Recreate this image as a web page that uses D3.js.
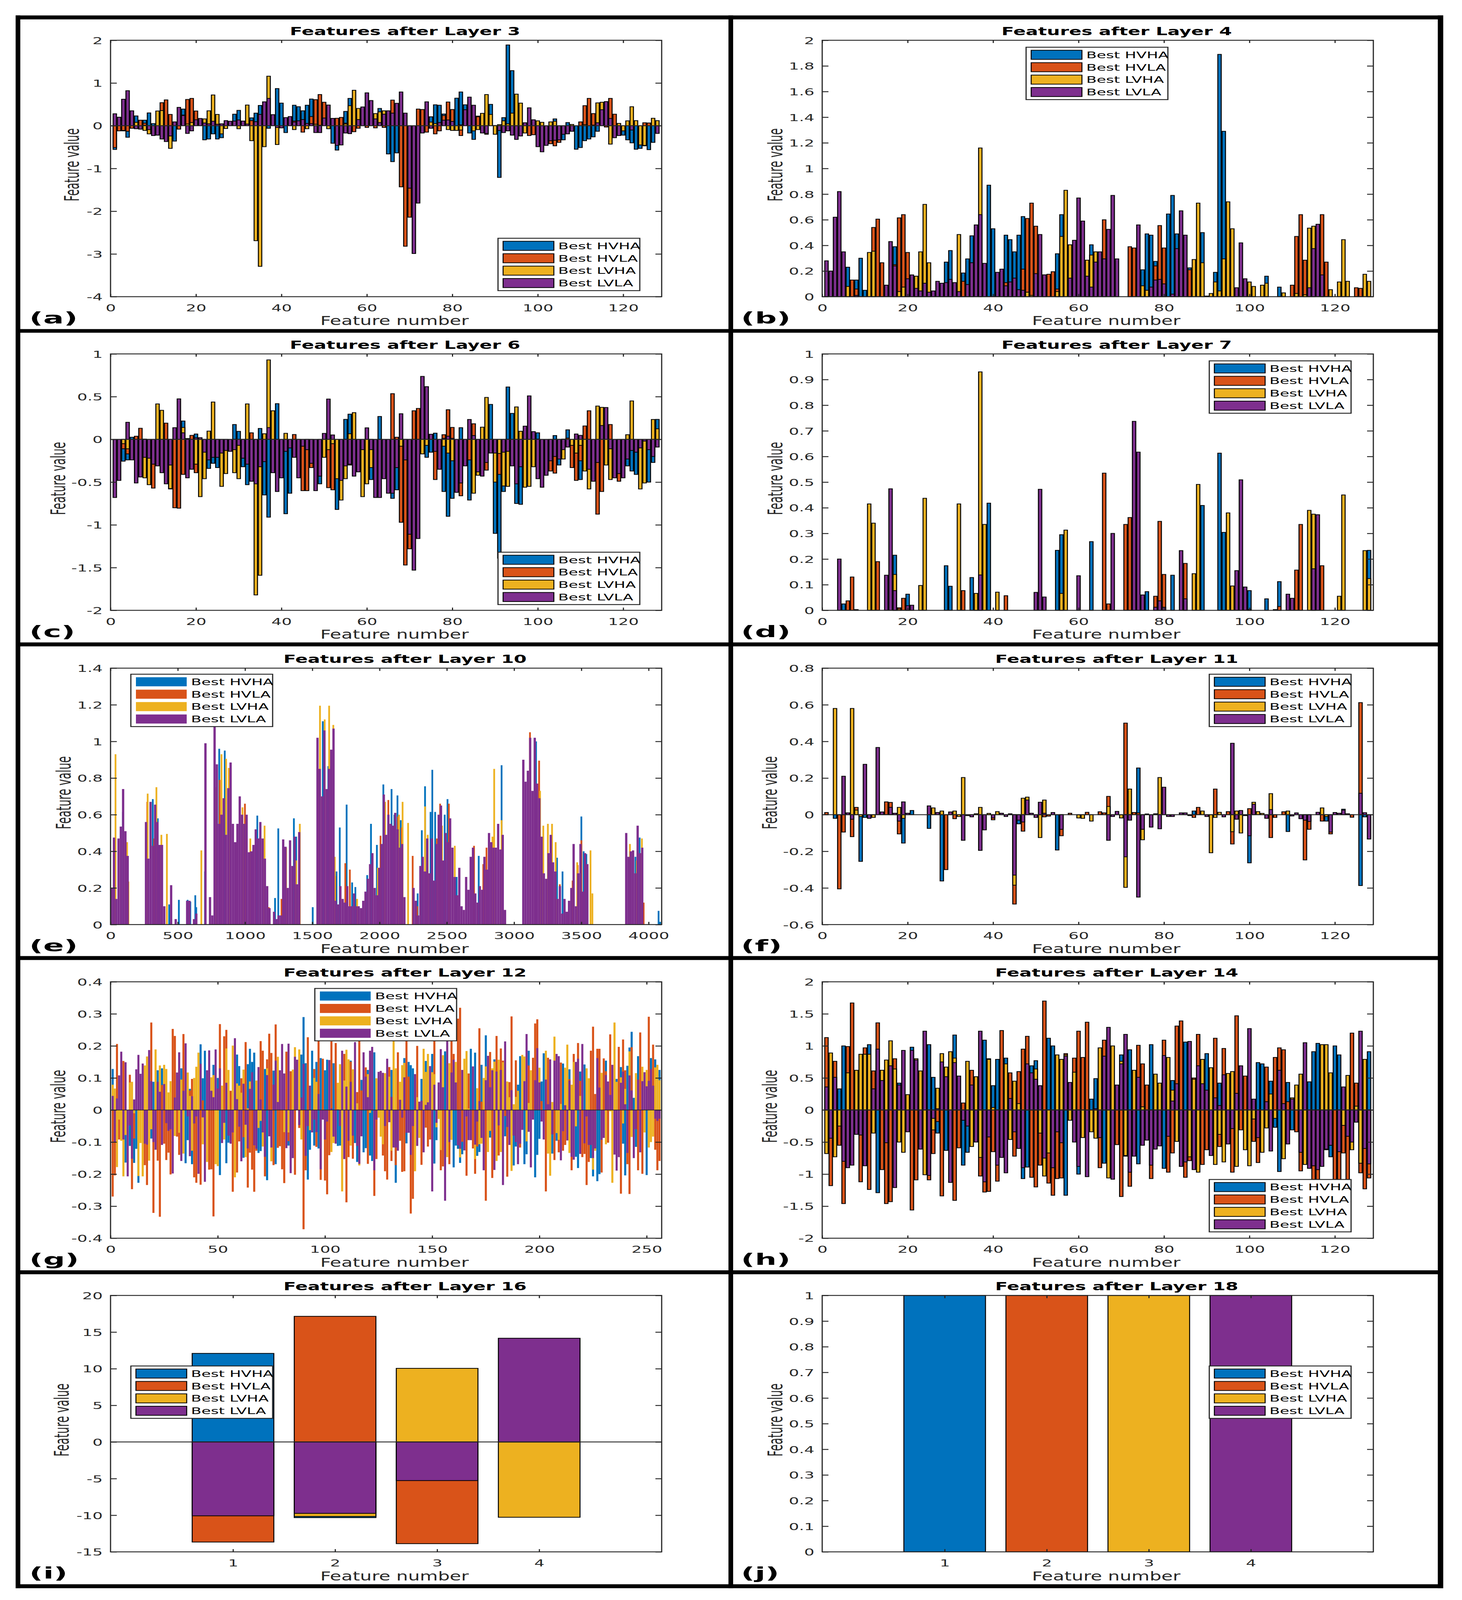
<!DOCTYPE html>
<html>
<head>
<meta charset="utf-8">
<script src="https://d3js.org/d3.v7.min.js"></script>
<style>
html, body { margin: 0; background: white; overflow: hidden; }
text { font-family: "DejaVu Sans"; fill: #262626; }
</style>
</head>
<body>
<div id="chart"></div>
<script>
var series_names = ["Best HVHA", "Best HVLA", "Best LVHA", "Best LVLA"];
var series_colors = ["#0072BD", "#D95319", "#EDB120", "#7E2F8E"];
var ticks_128 = [0, 20, 40, 60, 80, 100, 120];
var ticks_4 = [1, 2, 3, 4];

// Layer 3
var a_hvha = [-.555,0,-.12,-.27,0,.23,0,.13,.3,.05,
0,0,0,0,-.36,0,.39,0,0,0,
0,-.33,-.31,-.19,-.31,-.28,0,0,.27,.36,
0,0,.185,.295,.475,0,-.06,0,.87,.53,
-.16,0,.48,.445,.35,.48,.625,0,0,0,
0,-.41,-.57,0,.335,.64,0,0,0,0,
0,0,.405,0,-.66,-.84,-.635,0,0,0,
0,0,0,0,.21,.49,.48,.275,0,0,
.645,.79,.49,-.17,-.32,.225,0,0,.5,0,
-1.21,.19,1.89,1.29,0,0,0,0,0,0,
0,0,0,.16,0,-.33,.075,0,-.55,-.51,
-.35,-.31,-.26,-.13,0,0,0,0,0,-.22,
-.33,-.4,-.55,-.53,-.47,-.56,-.39,0];
var a_hvla = [-.51,-.12,-.11,-.13,-.06,0,.13,.06,0,0,
0,.54,.605,.265,0,-.08,.25,.615,.64,.345,
0,0,0,0,0,0,0,.09,0,0,
0,0,.12,0,0,0,0,0,0,0,
0,0,.11,0,-.15,0,.215,.61,.73,.55,
0,.17,.175,.195,.06,0,-.14,-.06,0,-.04,
0,-.05,0,-.04,0,.6,0,-1.43,-2.82,-2.14,
0,.39,.38,-.15,0,-.19,-.12,.24,.555,.38,
0,-.23,0,0,0,.21,0,-.2,0,.005,
0,0,0,0,0,0,0,-.23,-.21,0,
0,0,-.42,-.47,-.39,0,0,0,0,.09,
.47,.64,.285,0,0,-.03,.64,.27,0,0,
0,0,0,0,.07,.065,0,0];
var a_lvha = [0,0,0,0,0,.08,0,-.11,-.19,0,
.345,.355,0,-.53,0,0,0,.04,.075,0,
0,.16,.35,.72,.265,-.19,-.065,0,0,-.07,
0,.485,-.35,-2.69,-3.29,-.49,1.16,0,-.44,0,
0,0,-.09,0,0,-.07,0,.035,.01,0,
-.07,0,0,0,.04,.47,.83,.405,0,0,
0,.285,.325,.35,0,0,0,0,0,0,
0,0,0,0,.085,.05,0,0,-.09,-.11,
-.11,-.1,0,0,-.12,-.09,.29,.73,.265,-.2,
.025,.115,.045,.295,.74,.53,-.17,0,0,.115,
.08,0,.09,.105,0,0,0,.03,0,0,
.025,0,.015,.535,.55,0,-.43,0,.055,-.12,
.115,.445,.12,-.45,-.46,0,.175,.12];
var a_lvla = [.28,.2,.62,.82,.35,-.07,-.08,.01,-.09,-.23,
-.22,-.31,-.37,-.24,.09,.43,.24,-.18,-.12,.14,
.17,.065,.045,.105,.035,.045,.12,.105,.11,.135,
.11,.04,0,.095,.265,.56,.64,.26,-.04,-.05,
.19,.215,.085,.115,.145,.055,.05,-.16,-.16,.18,
.485,.17,-.46,-.45,-.17,-.185,0,.145,.44,.77,
.59,.16,.075,.27,.35,.295,.525,.79,.295,-1.46,
-2.99,-1.81,-.17,.56,-.06,0,.075,.13,.135,.1,
0,.02,.375,.67,.48,0,-.17,-.18,0,0,
-.11,-.16,-.12,-.22,-.32,-.24,.07,.42,.14,-.49,
-.61,-.46,-.35,-.34,-.33,-.2,-.19,-.13,0,0,
0,0,0,.07,.375,.565,.17,-.28,-.23,0,
0,-.1,0,0,0,0,0,-.18];

// Layer 4
var b_hvha = [0,0,0,0,0,.23,0,.13,.3,.05,
0,0,0,0,0,0,.39,0,0,0,
0,0,0,0,0,0,0,0,.27,.36,
0,0,.185,.295,.475,0,0,0,.87,.53,
0,0,.48,.445,.35,.48,.625,0,0,0,
0,0,0,0,.335,.64,0,0,0,0,
0,0,.405,0,0,0,0,0,0,0,
0,0,0,0,.21,.49,.48,.275,0,0,
.645,.79,.49,0,0,.225,0,0,.5,0,
0,.19,1.89,1.29,0,0,0,0,0,0,
0,0,0,.16,0,0,.075,0,0,0,
0,0,0,0,0,0,0,0,0,0,
0,0,0,0,0,0,0,0];
var b_hvla = [0,0,0,0,0,0,.13,.06,0,0,
0,.54,.605,.265,0,0,.25,.615,.64,.345,
0,0,0,0,0,0,0,.09,0,0,
0,0,.12,0,0,0,0,0,0,0,
0,0,.11,0,0,0,.215,.61,.73,.55,
0,.17,.175,.195,.06,0,0,0,0,0,
0,0,0,0,0,.6,0,0,0,0,
0,.39,.38,0,0,0,0,.24,.555,.38,
0,0,0,0,0,.21,0,0,0,.005,
0,0,0,0,0,0,0,0,0,0,
0,0,0,0,0,0,0,0,0,.09,
.47,.64,.285,0,0,0,.64,.27,0,0,
0,0,0,0,.07,.065,0,0];
var b_lvha = [0,0,0,0,0,.08,0,0,0,0,
.345,.355,0,0,0,0,0,.04,.075,0,
0,.16,.35,.72,.265,0,0,0,0,0,
0,.485,0,0,0,0,1.16,0,0,0,
0,0,0,0,0,0,0,.035,.01,0,
0,0,0,0,.04,.47,.83,.405,0,0,
0,.285,.325,.35,0,0,0,0,0,0,
0,0,0,0,.085,.05,0,0,0,0,
0,0,0,0,0,0,.29,.73,.265,0,
.025,.115,.045,.295,.74,.53,0,0,0,.115,
.08,0,.09,.105,0,0,0,.03,0,0,
.025,0,.015,.535,.55,0,0,0,.055,0,
.115,.445,.12,0,0,0,.175,.12];
var b_lvla = [.28,.2,.62,.82,.35,0,0,.01,0,0,
0,0,0,0,.09,.43,.24,0,0,.14,
.17,.065,.045,.105,.035,.045,.12,.105,.11,.135,
.11,.04,0,.095,.265,.56,.64,.26,0,0,
.19,.215,.085,.115,.145,.055,.05,0,0,.18,
.485,.17,0,0,0,0,0,.145,.44,.77,
.59,.16,.075,.27,.35,.295,.525,.79,.295,0,
0,0,0,.56,0,0,.075,.13,.135,.1,
0,.02,.375,.67,.48,0,0,0,0,0,
0,0,0,0,0,0,.07,.42,.14,0,
0,0,0,0,0,0,0,0,0,0,
0,0,0,.07,.375,.565,.17,0,0,0,
0,0,0,0,0,0,0,0];

// Layer 6
var c_hvha = [0,0,-.255,-.24,.025,0,0,.003,0,0,
0,0,0,0,0,0,.215,0,0,.063,
0,0,-.34,-.28,-.33,0,0,0,.174,.094,
-.32,-.53,0,0,.128,-.65,-.91,-.34,.418,0,
-.87,-.63,0,-.24,0,0,0,0,-.52,0,
0,0,-.82,0,.234,.295,0,-.33,0,0,
-.47,0,.268,0,0,-.69,-.59,0,0,0,
0,0,0,-.21,-.15,.073,0,-.61,-.9,-.69,
0,.137,0,-.71,0,0,0,0,.409,-1.1,
-1.39,-.61,.613,.304,-.75,-.76,0,0,-.27,.077,
0,0,0,.045,-.3,0,.112,0,0,-.47,
-.1,0,0,0,0,0,0,0,0,0,
-.31,-.37,-.41,0,0,-.5,-.27,.234];
var c_hvla = [0,0,-.11,-.17,0,.037,.13,0,0,-.57,
0,0,.19,-.58,-.8,-.805,-.41,.01,.047,-.39,
0,0,-.15,-.15,-.18,0,0,0,0,0,
-.11,0,.077,0,0,.042,0,0,0,0,
-.1,0,.057,-.16,-.6,-.6,-.33,0,0,-.16,
-.565,-.59,0,0,0,-.3,0,0,0,0,
0,0,0,0,0,.535,.025,-.97,-1.47,-1.28,
.335,.362,0,0,0,-.47,0,.055,.347,.14,
0,-.66,-.11,-.24,.183,0,0,-.36,0,0,
-.41,0,0,0,0,0,0,0,-.19,.003,
0,0,-.37,-.395,0,.003,.015,-.33,-.48,-.25,
.157,.335,0,-.875,-.61,0,.174,0,-.49,0,
0,0,0,0,0,0,0,0];
var c_lvha = [0,0,-.05,-.11,0,0,0,-.45,-.53,0,
.415,.34,0,-.575,0,0,.14,.005,0,-.29,
-.67,-.46,.097,.437,0,-.55,-.4,0,-.39,-.46,
0,.415,0,-1.82,-1.59,.066,.93,.335,0,0,
.071,0,0,0,0,-.1,0,0,0,-.21,
-.12,-.05,-.46,-.71,-.46,.066,.313,0,-.67,-.52,
-.33,0,0,0,0,0,0,-.08,-.09,0,
0,0,-.17,-.07,0,0,-.05,-.08,-.16,-.25,
0,0,0,0,-.63,-.42,.143,.491,0,-.5,
-.165,-.545,-.55,0,.38,.095,-.56,-.55,-.32,0,
0,0,0,0,-.15,-.23,0,-.07,-.16,-.07,
-.37,-.58,0,.39,.375,-.3,-.47,0,0,-.15,
.055,.45,0,-.58,-.51,0,.233,.124];
var c_lvla = [-.68,-.48,0,.2,-.24,-.51,-.44,-.21,-.22,-.29,
-.31,-.39,-.52,-.3,.137,.474,.077,-.45,-.35,.018,
.02,-.15,-.24,-.21,-.21,-.16,-.13,-.14,-.12,-.07,
-.22,-.29,-.49,-.52,-.32,-.26,.138,-.39,-.61,-.45,
-.14,-.1,-.21,-.45,-.08,-.12,-.28,-.6,-.43,.07,
.472,.052,0,-.48,-.31,-.29,-.43,-.38,-.12,.135,
-.12,-.68,-.68,-.46,-.63,-.63,-.33,.3,-.24,-1.11,
-1.53,-1.16,.737,.617,.06,-.14,-.35,.012,.037,.012,
-.62,-.51,-.31,.233,.045,-.38,-.43,-.27,-.16,-.16,
0,-.15,-.14,-.31,-.52,-.32,.155,.509,.091,-.46,
-.56,-.42,-.25,-.2,-.23,-.12,-.09,0,.063,.047,
0,-.35,-.49,-.27,.162,.373,-.11,-.45,-.4,-.45,
-.23,-.13,-.15,-.1,-.02,-.12,-.2,-.09];

// Layer 7
var d_hvha = [0,0,0,0,.025,0,0,.003,0,0,
0,0,0,0,0,0,.215,0,0,.063,
0,0,0,0,0,0,0,0,.174,.094,
0,0,0,0,.128,0,0,0,.418,0,
0,0,0,0,0,0,0,0,0,0,
0,0,0,0,.234,.295,0,0,0,0,
0,0,.268,0,0,0,0,0,0,0,
0,0,0,0,0,.073,0,0,0,0,
0,.137,0,0,0,0,0,0,.409,0,
0,0,.613,.304,0,0,0,0,0,.077,
0,0,0,.045,0,0,.112,0,0,0,
0,0,0,0,0,0,0,0,0,0,
0,0,0,0,0,0,0,.234];
var d_hvla = [0,0,0,0,0,.037,.13,0,0,0,
0,0,.19,0,0,0,0,.01,.047,0,
0,0,0,0,0,0,0,0,0,0,
0,0,.077,0,0,.042,0,0,0,0,
0,0,.057,0,0,0,0,0,0,0,
0,0,0,0,0,0,0,0,0,0,
0,0,0,0,0,.535,.025,0,0,0,
.335,.362,0,0,0,0,0,.055,.347,.14,
0,0,0,0,.183,0,0,0,0,0,
0,0,0,0,0,0,0,0,0,.003,
0,0,0,0,0,.003,.015,0,0,0,
.157,.335,0,0,0,0,.174,0,0,0,
0,0,0,0,0,0,0,0];
var d_lvha = [0,0,0,0,0,0,0,0,0,0,
.415,.34,0,0,0,0,.14,.005,0,0,
0,0,.097,.437,0,0,0,0,0,0,
0,.415,0,0,0,.066,.93,.335,0,0,
.071,0,0,0,0,0,0,0,0,0,
0,0,0,0,0,.066,.313,0,0,0,
0,0,0,0,0,0,0,0,0,0,
0,0,0,0,0,0,0,0,0,0,
0,0,0,0,0,0,.143,.491,0,0,
0,0,0,0,.38,.095,0,0,0,0,
0,0,0,0,0,0,0,0,0,0,
0,0,0,.39,.375,0,0,0,0,0,
.055,.45,0,0,0,0,.233,.124];
var d_lvla = [0,0,0,.2,0,0,0,0,0,0,
0,0,0,0,.137,.474,.077,0,0,.018,
.02,0,0,0,0,0,0,0,0,0,
0,0,0,0,0,0,.138,0,0,0,
0,0,0,0,0,0,0,0,0,.07,
.472,.052,0,0,0,0,0,0,0,.135,
0,0,0,0,0,0,0,.3,0,0,
0,0,.737,.617,.06,0,0,.012,.037,.012,
0,0,0,.233,.045,0,0,0,0,0,
0,0,0,0,0,0,.155,.509,.091,0,
0,0,0,0,0,0,0,0,.063,.047,
0,0,0,0,.162,.373,0,0,0,0,
0,0,0,0,0,0,0,0];

// Layer 10, 4096 features: [feature, value] spikes
var e_hvha = [[92,.615],[314,.685],[351,.58],[436,.11],[508,.135],[573,.135],[593,.125],[630,.16],[637,.095],[702,.29],
[808,.96],[849,.95],[1091,.595],[1111,.475],[1223,.145],[1247,.525],[1363,.58],[1380,.48],[1503,.095],[1578,1.11],
[1619,.865],[1680,.29],[1704,.53],[1755,.655],[1796,.23],[1820,.205],[1908,.27],[1936,.55],[1980,.435],[2028,.765],
[2089,.74],[2110,.6],[2133,.705],[2157,.57],[2283,.17],[2314,.515],[2338,.755],[2379,.615],[2392,.845],[2413,.615],
[2484,.6],[2505,.685],[2573,.26],[2645,.19],[2737,.375],[2907,.87],[3163,1],[3319,.365],[3360,.29],[3500,.59],
[3517,.4],[3537,.385],[3902,.37],[3933,.475],[4074,.075],[4086,.015]];
var e_hvla = [[273,.67],[324,.47],[811,.79],[961,.6],[999,.66],[1176,.095],[1271,.14],[1298,.42],[1551,.85],[1670,.265],
[1745,.335],[1779,.3],[2007,.485],[2065,.68],[2137,.59],[2164,.53],[2246,.375],[2280,.1],[2426,.47],[2450,.66],
[2515,.66],[2702,.43],[2771,.33],[2795,.42],[3118,1.05],[3186,.895],[3265,.34],[3340,.22],[3435,.24],[3473,.325],
[3500,.46],[3950,.42],[3963,.12]];
var e_lvha = [[37,.93],[123,.45],[133,.235],[276,.715],[341,.75],[378,.49],[419,.495],[675,.405],[784,.75],[825,.93],
[859,.905],[879,.855],[981,.64],[1039,.47],[1060,.42],[1145,.54],[1305,.42],[1380,.35],[1407,.55],[1557,1.195],
[1592,1.12],[1625,1.195],[1656,1.09],[1667,.37],[1833,.14],[1987,.31],[2041,.67],[2144,.6],[2171,.67],[2212,.555],
[2338,.645],[2358,.49],[2464,.54],[2559,.43],[2839,.48],[2852,.85],[2907,.57],[3193,.73],[3217,.54],[3251,.55],
[3282,.55],[3309,.45],[3469,.34],[3568,.405],[3582,.17],[3861,.44],[3912,.35],[3950,.47]];
// purple mass, one value per 17 features
var e_lvla_bin = 17;
var e_lvla = [.2,.475,.14,.47,.535,.74,.51,.375,0,0,
0,0,0,0,0,.56,.36,.67,.43,.655,
.56,.435,.435,.1,0,0,.215,0,.03,0,
0,0,0,.13,.13,0,.03,.06,0,0,
0,.99,0,.15,.05,1.08,.875,.55,.6,.69,
.49,.745,.885,.55,.45,.55,.7,.6,.55,.6,
.395,.4,.435,.52,.47,.56,.47,.36,.21,.09,
0,.07,.03,.05,.05,.465,.425,.2,.46,.32,
.48,.22,.505,0,0,0,0,0,0,0,
1.02,.85,.7,1.06,.74,.85,.955,1.07,.13,.11,
.21,.14,.12,.21,.1,.1,.17,.1,.1,.09,
.13,.18,.25,.33,.39,.2,.16,.31,.44,.71,
.49,.6,.55,.54,.61,.52,.42,.44,.15,0,
0,0,.2,.13,.05,.32,.37,.29,.47,.28,
.47,.24,.44,.6,.65,.35,.5,.45,.58,.42,
.26,.16,.31,.1,.08,.26,.19,.37,.42,.17,
.12,.21,.19,.37,.3,.5,.45,.42,.42,.55,
.41,.49,.08,0,0,0,0,0,0,0,
.9,.78,.84,1.02,.73,1.02,.77,.69,.48,.28,
.25,.39,.49,.34,.29,.14,.21,.06,.14,.07,
.13,.2,.44,.1,.28,.44,.18,.39,.33,0,
0,0,0,0,0,0,0,0,0,0,
0,0,0,0,0,.5,.37,.4,.405,.28,
.54,.39,.42,0,0,0,0,0,0,0,0];

// Layer 11
var f_hvha = [0,0,-.02,0,0,0,0,0,-.255,-.015,
0,0,0,0,0,0,0,0,-.155,0,
.023,0,0,0,-.075,0,0,-.362,0,0,
0,0,0,0,0,0,0,0,0,0,
0,0,0,0,0,-.05,0,0,0,0,
0,0,0,0,-.193,0,0,0,0,0,
0,0,0,0,0,0,0,0,0,0,
0,0,0,.255,0,0,0,0,0,0,
0,0,0,0,0,0,.02,0,0,0,
0,0,0,0,0,0,0,0,0,-.263,
0,0,0,0,0,0,0,0,-.092,0,
0,0,0,0,0,0,0,-.035,0,0,
0,.03,0,0,0,-.387,-.012,0];
var f_hvla = [.012,0,0,-.405,-.095,0,-.12,.04,0,0,
0,0,0,0,.07,.067,0,-.105,0,0,
0,0,0,0,0,0,0,.012,-.3,0,
-.022,0,0,0,0,0,0,0,0,-.028,
0,0,0,0,-.488,0,-.09,0,0,0,
0,-.012,-.008,0,0,-.115,0,.008,0,0,
0,.013,0,0,.016,.01,.1,0,0,0,
.5,0,.012,.01,0,0,0,0,0,0,
0,0,0,0,0,0,-.015,.04,0,0,
0,.14,0,0,.017,-.16,0,0,0,.033,
0,0,0,0,-.125,-.015,0,.016,0,0,
0,0,-.247,-.08,0,0,-.035,0,-.105,0,
0,0,0,-.014,0,.612,0,0];
var f_lvha = [0,0,.58,0,0,0,.58,.025,-.01,0,
0,-.015,0,0,0,0,0,.04,-.02,0,
0,0,0,0,0,.037,0,.02,0,0,
.02,-.01,.203,0,0,.005,.04,0,.007,0,
.017,0,0,0,-.385,0,.09,.096,0,0,
-.125,.08,0,0,0,-.072,0,0,0,-.018,
-.02,0,-.035,0,0,0,.045,0,0,-.018,
-.397,.14,0,0,-.137,0,0,0,.203,0,
0,0,0,0,0,0,0,0,.02,0,
-.208,-.015,.013,0,0,-.093,.02,-.1,0,0,
.068,.017,.007,0,.115,0,0,0,.02,0,
0,0,0,0,0,0,.037,-.01,0,0,
0,0,0,0,0,0,0,0];
var f_lvla = [0,0,0,0,.21,.01,-.025,0,0,.275,
-.02,0,.367,.015,0,.04,.008,-.035,.07,.008,
0,0,0,0,.048,0,.012,0,0,.015,
0,0,-.14,-.005,-.012,0,-.195,-.083,0,-.018,
0,.008,-.01,.005,-.33,-.03,-.04,.08,.008,-.015,
.068,.008,0,.012,0,-.08,0,0,0,0,
0,0,0,0,0,0,-.14,-.01,.018,0,
-.23,-.03,0,-.45,-.08,.004,-.068,.005,-.077,.15,
-.01,-.01,0,.01,.01,-.005,0,0,0,-.01,
0,0,0,-.012,0,.39,-.025,.023,-.005,-.115,
.057,0,0,-.02,.028,0,0,0,0,-.007,
.01,-.022,-.03,-.037,0,.013,0,0,-.095,.012,
.008,.025,.005,0,0,.117,.011,-.133];

// Layer 12
var g_hvha = [.128,0,0,0,0,0,-.164,0,-.112,0,
-.165,-.121,-.227,0,0,0,0,0,-.089,.088,
0,.124,0,.13,0,0,0,0,0,0,
0,0,.13,0,-.166,-.094,.066,-.169,0,0,
0,.205,.099,.185,0,0,0,.141,0,.1,
-.203,0,0,-.166,-.102,0,0,0,.173,.137,
0,-.149,0,.143,.191,.15,.179,0,-.134,-.128,
0,.128,-.219,0,0,.123,-.169,0,0,0,
0,0,-.111,0,0,0,0,0,.173,.29,
.146,-.217,-.124,.185,-.111,.15,-.12,.162,0,.124,
.157,0,0,.146,0,-.112,-.111,0,0,0,
0,.154,0,-.103,-.162,0,.094,-.132,-.119,.125,
-.142,-.159,.18,0,0,0,0,0,0,0,
.125,0,-.227,0,0,0,.162,-.104,.15,.14,
.13,0,0,0,.097,0,.153,0,0,.175,
-.167,-.094,0,0,0,.183,0,0,0,-.179,
-.111,-.121,-.165,-.138,0,0,0,.191,0,.179,
-.143,-.131,.141,0,.233,0,-.086,0,.158,0,
0,0,0,-.082,0,0,0,-.173,-.114,.079,
.168,0,-.169,-.138,.185,0,0,-.21,-.14,-.09,
.089,.177,0,0,0,-.136,0,-.096,0,0,
.145,0,0,.127,0,0,-.146,-.181,.12,0,
.142,0,0,-.15,-.207,0,-.222,-.2,0,0,
.154,0,0,0,0,.097,0,.134,-.105,-.204,
.138,.195,.244,.038,-.115,.168,0,0,0,-.203,
0,.162,0,.158,0,.125];
var g_hvla = [-.27,-.204,.206,-.092,0,.153,0,0,.11,-.247,
-.089,0,0,0,0,-.172,-.234,0,.273,-.321,
0,-.158,-.333,.078,-.105,-.156,-.133,-.201,.253,.231,
-.083,-.14,0,.237,0,0,.061,.097,-.21,-.227,
0,-.233,.03,0,0,-.186,-.185,-.332,0,0,
.268,0,.23,.25,0,.06,-.255,0,-.195,-.098,
.099,-.085,.212,-.242,-.133,-.186,-.255,-.127,0,.215,
.185,-.207,.158,.238,.178,-.172,.267,-.118,-.113,-.185,
-.228,.182,-.097,.121,0,-.202,0,-.056,0,-.372,
-.188,.227,0,0,.128,-.115,.217,-.218,.16,-.22,
-.263,-.141,.214,0,.209,0,0,0,.175,-.288,
-.147,.151,-.152,0,.056,.216,.061,0,.133,-.168,
0,0,-.268,-.153,0,0,-.142,-.191,-.217,.134,
-.159,0,-.172,.18,-.096,-.193,-.191,.216,.104,-.323,
-.277,0,.2,0,-.171,0,-.055,-.114,-.092,0,
.216,0,0,-.188,-.176,0,0,-.169,.215,.175,
0,.285,.319,-.099,0,-.205,.114,0,-.12,-.199,
-.114,.255,.026,0,-.283,0,.181,-.212,0,.231,
-.142,.192,.154,-.019,-.208,.087,.292,0,.155,0,
-.117,0,0,0,.139,0,.163,.27,.283,0,
.028,0,-.254,.163,0,0,-.156,0,-.132,.148,
-.127,-.109,0,.096,-.188,.175,0,.209,.091,-.147,
-.137,-.234,-.162,.185,.26,.05,.191,.191,-.195,.161,
.121,-.102,.236,0,0,0,.197,-.261,.22,.124,
-.169,-.262,.196,0,-.06,-.188,.242,-.199,0,0,
.291,0,.204,-.124,-.188,-.159];
var g_lvha = [.079,.067,-.178,-.03,-.096,-.207,-.078,0,.086,.088,
-.01,0,-.206,-.103,-.207,.139,.167,-.158,-.06,0,
.189,0,.139,0,.141,.128,.055,.09,0,-.081,
0,-.071,.095,-.136,0,.117,.044,-.127,.1,.135,
.179,0,-.107,0,-.162,0,.102,.109,-.169,-.175,
0,.076,-.092,.192,.125,0,.201,-.21,.083,.076,
.054,.126,-.147,.005,.089,0,0,.092,-.056,-.034,
-.114,0,.13,0,-.16,0,0,.166,0,0,
-.069,0,-.07,0,.126,.196,0,.189,-.092,0,
0,0,-.063,0,.1,.088,0,0,-.004,0,
0,0,-.131,-.103,0,.085,.143,-.254,.092,.188,
.158,-.111,.127,0,.021,-.173,0,0,0,.112,
-.009,0,0,.099,-.024,-.083,-.107,.115,0,.104,
-.127,.217,.13,0,.088,.14,.147,0,0,0,
0,-.191,.04,-.087,0,.191,.119,.175,0,.118,
.112,-.054,-.028,-.125,.171,0,-.147,.146,-.093,0,
.15,0,-.148,0,.16,.184,.005,0,0,-.153,
.068,-.107,-.105,.1,.136,-.131,-.065,.13,.151,-.159,
.157,-.131,.149,0,.089,.04,-.19,.018,.041,.06,
0,.172,.167,-.098,.022,.124,-.024,0,0,.132,
0,0,.185,-.136,-.205,.025,.229,-.072,-.093,.019,
0,.132,.204,-.134,.079,.15,-.051,0,.044,0,
0,.13,.099,0,-.186,-.127,0,0,.116,0,
-.107,0,-.004,-.227,.273,.088,0,.102,-.042,.066,
0,.183,-.084,0,.115,0,0,.135,-.07,.125,
-.117,-.1,-.083,.133,.141,.093];
var g_lvla = [.044,-.1,.036,.108,.182,-.092,.149,-.207,-.048,-.152,
.033,.127,.172,.113,.145,-.105,-.108,.187,.09,-.1,
-.124,.088,.057,-.109,.081,-.041,-.065,-.06,-.198,.039,
.117,.18,-.159,.06,.208,-.02,-.144,.043,-.042,-.02,
-.199,.144,-.023,-.224,.124,.186,.06,.04,.189,.067,
.13,-.103,-.04,.085,-.08,-.105,-.07,.224,.034,-.052,
-.16,.082,-.046,-.12,.066,.118,-.11,-.121,.134,.033,
-.07,-.146,.109,-.082,-.117,.079,.154,.025,.124,.206,
.114,-.119,.207,-.197,-.15,.166,.157,-.047,.039,.144,
-.143,-.05,.076,-.07,-.03,-.069,.05,-.185,-.03,-.092,
-.036,.156,.005,-.083,-.105,.002,-.05,.185,-.153,.073,
-.096,.088,-.08,.212,-.112,-.168,-.082,.18,.104,.04,
.185,.197,-.188,-.03,.119,.122,.116,-.05,.16,-.038,
.041,-.117,-.117,-.127,.032,-.024,.102,-.071,-.071,-.14,
-.05,.112,-.112,.026,.029,-.132,.016,.024,.137,-.254,
.079,-.04,.086,.19,.071,-.283,.216,-.1,.117,.157,
.086,-.11,-.121,.125,-.126,-.02,-.094,-.094,.136,-.108,
-.036,.028,-.087,-.188,.093,.169,.071,.124,-.187,.12,
-.048,.125,-.234,.214,-.053,-.109,.062,-.08,-.1,-.169,
-.105,-.062,.09,.237,-.068,-.179,-.03,.093,.193,.086,
-.036,-.092,.095,.018,.158,-.076,.154,.175,.168,-.157,
-.066,.015,-.095,.092,-.146,-.155,.15,.16,-.137,.206,
-.104,-.02,-.109,-.109,-.15,-.12,.162,.07,-.093,-.087,
.109,.089,.047,.141,-.139,-.189,-.147,.085,.12,.018,
-.134,.108,.061,-.15,-.06,.095,-.132,.09,.118,.074,
.091,.128,.076,-.027,-.034,-.027];

// Layer 14
var h_hvha = [0,0,0,.33,1,0,0,0,0,0,
1.02,0,-1.29,.62,0,0,0,.42,0,0,
.98,0,0,0,1.02,.51,-.36,0,-.63,0,
1.17,0,-.86,-.66,0,0,0,1.09,.8,.38,
.79,0,.81,0,0,0,-1.07,-.89,.69,.77,
0,0,1.12,1,0,0,-1.33,0,0,-1,
0,0,.17,.49,0,-.83,0,0,0,.86,
0,.94,0,-.84,0,0,1.02,0,0,-.91,
0,.46,0,0,1.06,0,0,0,0,.88,
0,0,.42,0,0,0,0,0,0,0,
0,.74,.72,0,.45,-.27,-.96,0,.43,-.31,
0,0,0,.44,.91,1.04,0,0,-.73,1,
.86,0,0,0,0,0,0,.91];
var h_hvla = [1.13,-1.18,.76,-.55,-1.46,.99,1.67,0,-1.12,.97,
-1.24,.61,1.36,-.93,-1.46,-1.43,.8,0,0,0,
-1.56,-1.09,0,0,-1.09,-.68,-.18,-1.34,0,0,
-1.41,-.59,.11,0,.62,-.42,-1.03,-1.28,-1.27,-.65,
-1.11,1.24,0,.58,-.72,.6,.95,1.15,-1.05,-1.2,
-.86,1.7,-1.14,-1.33,-1.07,-1.06,.88,0,.81,1.23,
.82,1.37,-.05,0,-.9,1.09,0,0,-.54,-1.35,
-.72,-1.19,-.14,1.01,.72,.39,-1.07,0,0,1.09,
-.97,-.67,1.31,1.39,-1.05,-.79,.5,1.18,-.85,-.62,
0,1.12,-.57,.96,0,-.97,1.47,-.31,.53,0,
-.49,-.82,0,.67,0,.82,.97,.94,.13,0,
-.34,-.95,0,0,-1.2,-1.25,0,-.62,-.55,-1.3,
-1.2,-.67,-1.3,1.2,.42,-.98,-1.23,-1.06];
var h_lvha = [-.68,.89,-.73,-.25,0,.58,0,.62,.87,.87,
.87,-.36,0,.62,.78,1.08,.64,-.5,-.66,.24,
0,.8,.61,-1.01,0,-.31,.34,.88,.67,.91,
.81,0,0,.76,-.57,.52,-.74,0,.79,.04,
0,0,.72,-.46,.45,.1,0,0,0,.64,
-.36,-1.03,-.67,0,.86,.79,.86,-.16,.59,-.79,
-.43,0,-.34,-.44,.97,0,-1.06,1,0,.76,
-.71,0,.62,0,.05,0,0,.56,.42,0,
.82,.31,-.49,0,0,-.73,.48,-.97,.79,0,
.66,-.85,-.38,-.81,.57,.6,-.88,0,-.62,-.87,
-.14,0,-.66,-.28,.25,-.13,0,-.76,0,.19,
.39,.56,-.85,0,0,0,1.02,1.02,.58,0,
0,-.24,.54,-.62,.06,-.83,.79,0];
var h_lvla = [.36,-.44,.51,0,-.8,-.9,-.86,-.38,-.39,-.87,
0,.33,.95,.46,-.51,.69,-1.21,.39,.93,-.34,
.93,.78,-.61,1.23,-1.02,-.13,.02,.75,.52,-1.13,
.74,.53,-.16,-.25,.39,-.5,1.23,-1.12,-.42,0,
-.86,-.74,-.98,.18,-.34,-.6,-.9,.72,.58,.48,
.38,-.75,0,-.9,-.34,-.51,.84,.43,-.5,-.88,
0,-1.04,0,.02,-.43,.84,1.29,-1.08,.39,.72,
1.18,-.97,-.72,.51,-.55,-.47,-.86,-.61,-.56,.85,
-.41,.14,.41,-.88,-.81,1.07,-.93,.69,.41,.31,
-.71,.19,.07,.55,-.53,-.29,.26,.69,0,1.27,
.17,-.43,0,.13,-.64,0,.62,.1,-.53,.17,
0,-.66,1.05,-.91,-.87,-.93,-.88,-.61,-.55,0,
-.65,.36,-.41,-.5,-.19,1.23,-.6,-.84];

// Layer 16 and 18
var i_hvha = [12.09,-10.33,0,0];
var i_hvla = [-13.66,17.15,-13.88,0];
var i_lvha = [0,-10.17,10.05,-10.28];
var i_lvla = [-10.08,-9.75,-5.27,14.16];
var j_hvha = [1,0,0,0];
var j_hvla = [0,1,0,0];
var j_lvha = [0,0,1,0];
var j_lvla = [0,0,0,1];

var margin_cols = [283, 2105];
var margin_rows = [133, 1169, 2207, 3243, 4279];
var plot_w = 1411;
var plot_h = 847;
var ink = "#262626";

function seq(ser) { return ser.map(function(v, i) { return [i + 1, v]; }); }

var panels = [
  {tag: "(a)", layer: 3, col: 0, row: 0, xdom: [0, 129], xticks: ticks_128, ydom: [-4, 2], yticks: [-4, -3, -2, -1, 0, 1, 2],
   series: [a_hvha, a_hvla, a_lvha, a_lvla].map(seq), legend: [1275, 787], ylab: -100},
  {tag: "(b)", layer: 4, col: 1, row: 0, xdom: [0, 129], xticks: ticks_128, ydom: [0, 2], yticks: [0, .2, .4, .6, .8, 1, 1.2, 1.4, 1.6, 1.8, 2],
   series: [b_hvha, b_hvla, b_lvha, b_lvla].map(seq), legend: [2627, 156], ylab: -121},
  {tag: "(c)", layer: 6, col: 0, row: 1, xdom: [0, 129], xticks: ticks_128, ydom: [-2, 1], yticks: [-2, -1.5, -1, -.5, 0, .5, 1],
   series: [c_hvha, c_hvla, c_lvha, c_lvla].map(seq), legend: [1275, 1824], ylab: -135},
  {tag: "(d)", layer: 7, col: 1, row: 1, xdom: [0, 129], xticks: ticks_128, ydom: [0, 1], yticks: [0, .1, .2, .3, .4, .5, .6, .7, .8, .9, 1],
   series: [d_hvha, d_hvla, d_lvha, d_lvla].map(seq), legend: [3096, 1192], ylab: -121},
  {tag: "(e)", layer: 10, col: 0, row: 2, xdom: [0, 4097], xticks: [0, 500, 1000, 1500, 2000, 2500, 3000, 3500, 4000], ydom: [0, 1.4], yticks: [0, .2, .4, .6, .8, 1, 1.2, 1.4],
   series: [e_hvha, e_hvla, e_lvha, e_lvla.map(function(v, i) { return [(i + .5) * e_lvla_bin, v]; })],
   legend: [335, 2227], ylab: -121, flat: true, widths: [13, 13, 13, e_lvla_bin]},
  {tag: "(f)", layer: 11, col: 1, row: 2, xdom: [0, 129], xticks: ticks_128, ydom: [-.6, .8], yticks: [-.6, -.4, -.2, 0, .2, .4, .6, .8],
   series: [f_hvha, f_hvla, f_lvha, f_lvla].map(seq), legend: [3096, 2227], ylab: -135},
  {tag: "(g)", layer: 12, col: 0, row: 3, xdom: [0, 257], xticks: [0, 50, 100, 150, 200, 250], ydom: [-.4, .4], yticks: [-.4, -.3, -.2, -.1, 0, .1, .2, .3, .4],
   series: [g_hvha, g_hvla, g_lvha, g_lvla].map(seq), legend: [806, 3265], ylab: -135, flat: true, widths: [.96, .96, .96, .96]},
  {tag: "(h)", layer: 14, col: 1, row: 3, xdom: [0, 129], xticks: ticks_128, ydom: [-2, 2], yticks: [-2, -1.5, -1, -.5, 0, .5, 1, 1.5, 2],
   series: [h_hvha, h_hvla, h_lvha, h_lvla].map(seq), legend: [3096, 3896], ylab: -135},
  {tag: "(i)", layer: 16, col: 0, row: 4, xdom: [-.2, 5.2], xticks: ticks_4, ydom: [-15, 20], yticks: [-15, -10, -5, 0, 5, 10, 15, 20],
   series: [i_hvha, i_hvla, i_lvha, i_lvla].map(seq), legend: [335, 4512], ylab: -126},
  {tag: "(j)", layer: 18, col: 1, row: 4, xdom: [-.2, 5.2], xticks: ticks_4, ydom: [0, 1], yticks: [0, .1, .2, .3, .4, .5, .6, .7, .8, .9, 1],
   series: [j_hvha, j_hvla, j_lvha, j_lvla].map(seq), legend: [3096, 4512], ylab: -121}
];

// the window can be shorter than the figure, so the whole figure is fitted into it
var svg = d3.select("#chart").append("svg")
    .attr("viewBox", "0 0 3743 5285")
    .attr("preserveAspectRatio", "none")
    .attr("width", window.innerWidth)
    .attr("height", window.innerHeight)
    .style("display", "block");

// stretch a text along its own direction, the picture was resized unevenly
function stretch(sel, k) {
    sel.each(function() {
        var len = this.getComputedTextLength();
        d3.select(this).attr("textLength", len * k).attr("lengthAdjust", "spacingAndGlyphs");
    });
}

function gen_panel(p) {
    var left = margin_cols[p.col];
    var top = margin_rows[p.row];
    var g = svg.append("g").attr("transform", "translate(" + left + "," + top + ")");

    var x = d3.scaleLinear().domain(p.xdom).range([0, plot_w]);
    var y = d3.scaleLinear().domain(p.ydom).range([plot_h, 0]);

    // bars, drawn series after series so the later ones cover the earlier ones
    p.series.forEach(function(ser, s) {
        var w = p.widths ? p.widths[s] : .8;
        g.append("g").selectAll("rect")
            .data(ser.filter(function(d) { return d[1] !== 0; }))
            .enter()
            .append("rect")
            .attr("x", function(d) { return x(d[0] - w / 2); })
            .attr("y", function(d) { return y(Math.max(d[1], 0)); })
            .attr("width", x(w) - x(0))
            .attr("height", function(d) { return Math.abs(y(d[1]) - y(0)); })
            .attr("fill", series_colors[s])
            .attr("stroke", p.flat ? "none" : "black")
            .attr("stroke-width", 2.5);
    });

    // baseline at zero
    if (p.ydom[0] < 0) {
        g.append("line")
            .attr("x1", 0).attr("x2", plot_w)
            .attr("y1", y(0)).attr("y2", y(0))
            .attr("stroke", ink)
            .attr("stroke-width", p.flat ? 2 : 3);
    }

    var fmt = function(d) { return String(d); };
    var bottom = g.append("g").attr("transform", "translate(0," + plot_h + ")")
        .call(d3.axisBottom(x).tickValues(p.xticks).tickFormat(fmt).tickSizeInner(-9).tickSizeOuter(0));
    var leftAxis = g.append("g")
        .call(d3.axisLeft(y).tickValues(p.yticks).tickFormat(fmt).tickSizeInner(-16).tickSizeOuter(0));
    var topAxis = g.append("g")
        .call(d3.axisTop(x).tickValues(p.xticks).tickFormat("").tickSizeInner(-9).tickSizeOuter(0));
    var rightAxis = g.append("g").attr("transform", "translate(" + plot_w + ",0)")
        .call(d3.axisRight(y).tickValues(p.yticks).tickFormat("").tickSizeInner(-16).tickSizeOuter(0));

    [bottom, leftAxis, topAxis, rightAxis].forEach(function(a) {
        a.select(".domain").remove();
        a.selectAll("line").attr("stroke", ink).attr("stroke-width", 3);
    });

    var xt = bottom.selectAll("text")
        .attr("y", 48).attr("dy", 0)
        .style("font-size", "33px");
    stretch(xt, 1.25);
    var yt = leftAxis.selectAll("text")
        .attr("x", -20).attr("dy", ".36em")
        .style("font-size", "33px");
    stretch(yt, 1.25);

    // box
    g.append("rect")
        .attr("width", plot_w).attr("height", plot_h)
        .attr("fill", "none")
        .attr("stroke", ink)
        .attr("stroke-width", 3);

    // title, axis names, panel letter
    var title = g.append("text")
        .attr("x", 754).attr("y", -17)
        .attr("text-anchor", "middle")
        .style("font-size", "37px").style("font-weight", "bold").style("fill", "black")
        .text("Features after Layer " + p.layer);
    stretch(title, 1.27);

    var xlab = g.append("text")
        .attr("x", 727).attr("y", plot_h + 94)
        .attr("text-anchor", "middle")
        .style("font-size", "41px")
        .text("Feature number");
    stretch(xlab, 1.16);

    var ylab = g.append("text")
        .attr("transform", "translate(" + p.ylab + "," + (plot_h / 2 - 12) + ") rotate(-90)")
        .attr("text-anchor", "middle")
        .attr("dy", ".36em")
        .style("font-size", "52px")
        .text("Feature value");
    stretch(ylab, .68);

    var tag = g.append("text")
        .attr("x", -208).attr("y", plot_h + 88)
        .style("font-size", "52px").style("font-weight", "bold").style("fill", "black")
        .text(p.tag);
    stretch(tag, 1.5);

    // legend
    var lg = svg.append("g").attr("transform", "translate(" + p.legend[0] + "," + p.legend[1] + ")");
    lg.append("rect")
        .attr("width", 363).attr("height", 173)
        .attr("fill", "white")
        .attr("stroke", ink)
        .attr("stroke-width", 3);
    series_names.forEach(function(name, s) {
        lg.append("rect")
            .attr("x", 13).attr("y", 10 + s * 41)
            .attr("width", 130).attr("height", 30)
            .attr("fill", series_colors[s])
            .attr("stroke", p.flat ? "none" : "black")
            .attr("stroke-width", 2.5);
        var t = lg.append("text")
            .attr("x", 154).attr("y", 36 + s * 41)
            .style("font-size", "30px").style("fill", "black")
            .text(name);
        stretch(t, 1.3);
    });
}

panels.forEach(gen_panel);

// black frame around and between the panels
var frame_rows = [[51, 13], [1087, 12], [2122, 13], [3158, 13], [4196, 13], [5233, 13]];
var frame_cols = [[40, 12], [1865, 12], [3681, 14]];
frame_rows.forEach(function(r) {
    svg.append("rect").attr("x", 40).attr("y", r[0]).attr("width", 3655).attr("height", r[1]).attr("fill", "black");
});
frame_cols.forEach(function(c) {
    svg.append("rect").attr("x", c[0]).attr("y", 51).attr("width", c[1]).attr("height", 5195).attr("fill", "black");
});
</script>
</body>
</html>
